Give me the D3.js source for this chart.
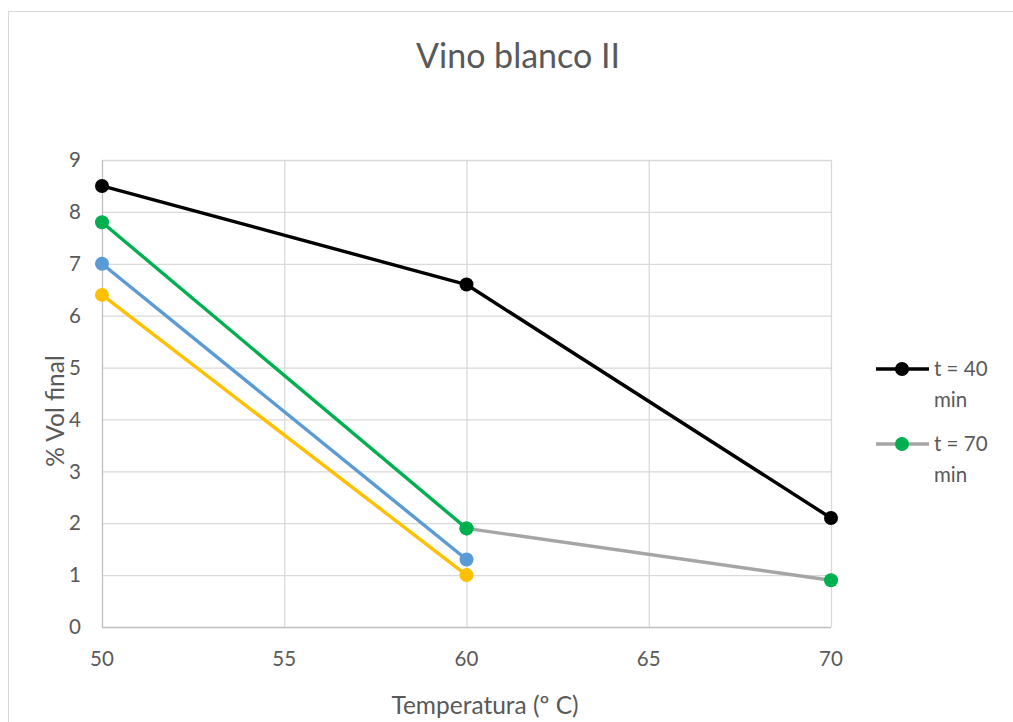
<!DOCTYPE html>
<html><head><meta charset="utf-8">
<script src="https://cdn.jsdelivr.net/npm/d3@7"></script>
<style>body{margin:0;background:#fff}svg{display:block}text{font-family:Lato,"Open Sans",sans-serif;fill:#595959}</style>
</head><body>
<svg id="c" width="1013" height="722"></svg>
<script>
const title = "Vino blanco II";
const xLabel = "Temperatura (º C)";
const yLabel = "% Vol final";
const xTicks = [50, 55, 60, 65, 70];
const yTicks = [0,1,2,3,4,5,6,7,8,9];
const s40x = [50, 60, 70];      const s40y = [8.5, 6.6, 2.1];
const s70x = [60, 70];          const s70y = [1.9, 0.9];
const sGx = [50, 60];           const sGy = [7.8, 1.9];
const sBx = [50, 60];           const sBy = [7.0, 1.3];
const sYx = [50, 60];           const sYy = [6.4, 1.0];
const legendNames = ["t = 40", "t = 70"];

const series = [
  {x:sYx, y:sYy, line:"#FFC000", mark:"#FFC000"},
  {x:sBx, y:sBy, line:"#5B9BD5", mark:"#5B9BD5"},
  {x:sGx, y:sGy, line:"#00B050", mark:"#00B050"},
  {x:s70x, y:s70y, line:"#A5A5A5", mark:"#00B050"},
  {x:s40x, y:s40y, line:"#000000", mark:"#000000"}
];

const svg = d3.select("#c");
svg.append("rect").attr("x",8.5).attr("y",11.5).attr("width",1100).attr("height",800)
  .attr("fill","#fff").attr("stroke","#d9d9d9");

const x = d3.scaleLinear().domain([50,70]).range([102,831]);
const y = d3.scaleLinear().domain([0,9]).range([627,160]);

// grid
svg.append("g").selectAll("line").data(yTicks).join("line")
  .attr("x1",x(50)).attr("x2",x(70)).attr("y1",d=>y(d)+.5).attr("y2",d=>y(d)+.5)
  .attr("stroke",d=>d===0?"#bfbfbf":"#d9d9d9").attr("stroke-width",1.3);
svg.append("g").selectAll("line").data(xTicks).join("line")
  .attr("y1",y(0)).attr("y2",y(9)).attr("x1",d=>x(d)+.5).attr("x2",d=>x(d)+.5)
  .attr("stroke",d=>d===50?"#bfbfbf":"#d9d9d9").attr("stroke-width",1.3);

// tick labels
svg.append("g").selectAll("text").data(yTicks).join("text")
  .attr("x",81).attr("y",d=>y(d)).attr("dy","0.35em").attr("text-anchor","end")
  .attr("font-size",20.5).text(d=>d);
svg.append("g").selectAll("text").data(xTicks).join("text")
  .attr("x",d=>x(d)).attr("y",659).attr("dy","0.35em").attr("text-anchor","middle")
  .attr("font-size",20.5).text(d=>d);

// titles
svg.append("text").attr("x",518).attr("y",56).attr("dy","0.35em").attr("text-anchor","middle")
  .attr("font-size",34).text(title);
svg.append("text").attr("x",485).attr("y",705).attr("dy","0.35em").attr("text-anchor","middle")
  .attr("font-size",24.5).text(xLabel);
svg.append("text").attr("transform","translate(55,411) rotate(-90)").attr("dy","0.35em")
  .attr("text-anchor","middle").attr("font-size",24.5).text(yLabel);

// series
const line = d3.line().x(d=>x(d[0])).y(d=>y(d[1]));
series.forEach(s=>{
  const pts = s.x.map((v,i)=>[v,s.y[i]]);
  svg.append("path").datum(pts).attr("d",line).attr("fill","none")
    .attr("stroke",s.line).attr("stroke-width",3.4).attr("stroke-linejoin","round");
});
series.forEach(s=>{
  const pts = s.x.map((v,i)=>[v,s.y[i]]);
  svg.append("g").selectAll("circle").data(pts).join("circle")
    .attr("cx",d=>x(d[0])).attr("cy",d=>y(d[1])).attr("r",7).attr("fill",s.mark);
});

// legend
const leg = [{name:legendNames[0], line:"#000000", mark:"#000000", yy:369},
             {name:legendNames[1], line:"#A5A5A5", mark:"#00B050", yy:444}];
leg.forEach(l=>{
  svg.append("line").attr("x1",876).attr("x2",929).attr("y1",l.yy).attr("y2",l.yy)
    .attr("stroke",l.line).attr("stroke-width",3.4);
  svg.append("circle").attr("cx",902).attr("cy",l.yy).attr("r",7).attr("fill",l.mark);
  svg.append("text").attr("x",934).attr("y",l.yy).attr("dy","0.35em").attr("font-size",20.5).text(l.name);
  svg.append("text").attr("x",934).attr("y",l.yy+31).attr("dy","0.35em").attr("font-size",20.5).text("min");
});
</script>
</body></html>
